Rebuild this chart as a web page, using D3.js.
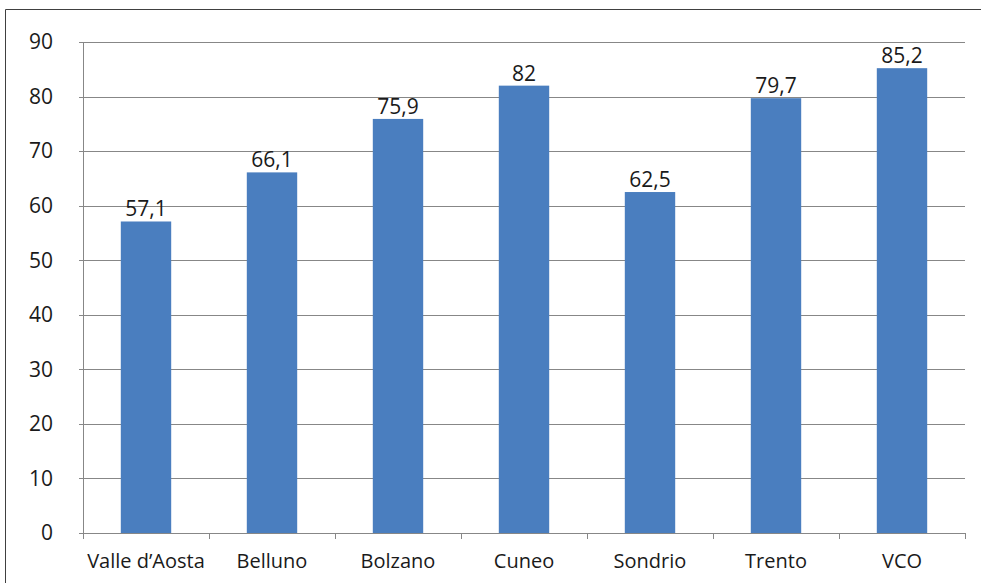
<!DOCTYPE html>
<html>
<head>
    <meta charset="utf-8">
    <title>Bar chart</title>
    <script src="https://d3js.org/d3.v7.min.js"></script>
    <style>
        body { margin: 0; background: #fff; }
        svg text { font-family: 'Open Sans', 'Noto Sans', sans-serif; fill: #1a1a1a; }
    </style>
</head>
<body>
    <svg id="chart" width="981" height="583"></svg>
    <script>
        const categories = ["Valle d\u2019Aosta", "Belluno", "Bolzano", "Cuneo", "Sondrio", "Trento", "VCO"];
        const values = [57.1, 66.1, 75.9, 82, 62.5, 79.7, 85.2];
        const labels = ["57,1", "66,1", "75,9", "82", "62,5", "79,7", "85,2"];
        const yTicks = [0, 10, 20, 30, 40, 50, 60, 70, 80, 90];

        const svg = d3.select("#chart");
        const plotLeft = 83, plotRight = 965, plotTop = 42, plotBottom = 533;

        // cropped outer frame
        svg.append("path")
            .attr("d", "M5.5,600 V9.5 H990")
            .attr("fill", "none")
            .attr("stroke", "#404040")
            .attr("stroke-width", 1);

        let x = d3.scaleBand().domain(categories).range([plotLeft, plotRight]).paddingInner(0).paddingOuter(0);
        let y = d3.scaleLinear().domain([0, 90]).range([plotBottom, plotTop]);

        // gridlines
        svg.append("g").selectAll("line").data(yTicks.filter(d => d > 0)).enter()
            .append("line")
            .attr("x1", plotLeft - 4).attr("x2", plotRight)
            .attr("y1", d => Math.round(y(d)) + 0.5).attr("y2", d => Math.round(y(d)) + 0.5)
            .attr("stroke", "#878787").attr("stroke-width", 1);

        // y labels
        svg.append("g").selectAll("text").data(yTicks).enter()
            .append("text")
            .attr("x", 53).attr("y", d => y(d))
            .attr("dy", "0.35em")
            .attr("text-anchor", "end")
            .attr("font-size", 21)
            .text(d => d);

        // bars
        svg.append("g").selectAll("rect").data(values).enter()
            .append("rect")
            .attr("x", (d, i) => x(categories[i]) + x.bandwidth() * 0.3)
            .attr("width", x.bandwidth() * 0.4)
            .attr("y", d => y(d))
            .attr("height", d => plotBottom - y(d))
            .attr("fill", "#4a7ebf");

        // value labels
        svg.append("g").selectAll("text").data(values).enter()
            .append("text")
            .attr("x", (d, i) => x(categories[i]) + x.bandwidth() / 2)
            .attr("y", d => y(d) - 5)
            .attr("text-anchor", "middle")
            .attr("font-size", 21)
            .text((d, i) => labels[i]);

        // axes lines
        svg.append("line")
            .attr("x1", plotLeft + 0.5).attr("x2", plotLeft + 0.5)
            .attr("y1", plotTop).attr("y2", plotBottom + 6)
            .attr("stroke", "#878787");
        svg.append("line")
            .attr("x1", plotLeft - 4).attr("x2", plotRight)
            .attr("y1", plotBottom + 0.5).attr("y2", plotBottom + 0.5)
            .attr("stroke", "#878787");

        // x ticks at category boundaries
        let bounds = categories.map(c => x(c)).concat([plotRight]);
        svg.append("g").selectAll("line").data(bounds).enter()
            .append("line")
            .attr("x1", d => Math.round(d) + 0.5).attr("x2", d => Math.round(d) + 0.5)
            .attr("y1", plotBottom).attr("y2", plotBottom + 6)
            .attr("stroke", "#878787");

        // category labels
        svg.append("g").selectAll("text").data(categories).enter()
            .append("text")
            .attr("x", d => x(d) + x.bandwidth() / 2)
            .attr("y", 568)
            .attr("text-anchor", "middle")
            .attr("font-size", 20)
            .text(d => d);
    </script>
</body>
</html>
